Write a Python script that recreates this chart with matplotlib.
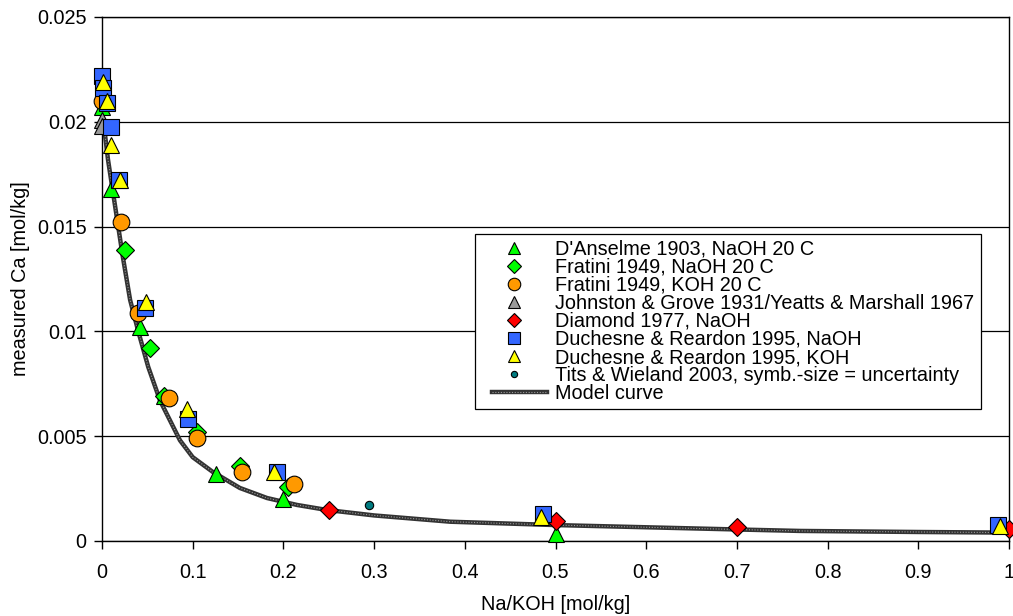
import matplotlib.pyplot as plt
from matplotlib.legend_handler import HandlerTuple

plt.rcParams['font.family'] = ['Liberation Sans', 'DejaVu Sans']

# D'Anselme 1903, NaOH 20 C
dans_x = [0.0, 0.01, 0.042, 0.068, 0.126, 0.2, 0.5]
dans_y = [0.0207, 0.0168, 0.0102, 0.0069, 0.0032, 0.0020, 0.00035]
# Fratini 1949, NaOH 20 C
fran_x = [0.025, 0.053, 0.068, 0.105, 0.152, 0.205]
fran_y = [0.0139, 0.0092, 0.0069, 0.0052, 0.0036, 0.0026]
# Fratini 1949, KOH 20 C
frak_x = [0.0, 0.021, 0.04, 0.074, 0.105, 0.154, 0.212]
frak_y = [0.0210, 0.0152, 0.0109, 0.0068, 0.0049, 0.0033, 0.0027]
# Johnston & Grove / Yeatts & Marshall
john_x = [0.0, 0.0]
john_y = [0.0201, 0.0198]
# Diamond 1977, NaOH
diam_x = [0.25, 0.5, 0.7, 1.0]
diam_y = [0.0015, 0.00095, 0.00067, 0.00055]
# Duchesne & Reardon 1995, NaOH
duna_x = [0.0, 0.001, 0.005, 0.01, 0.019, 0.047, 0.095, 0.193, 0.486, 0.988]
duna_y = [0.0222, 0.0216, 0.0209, 0.01975, 0.0172, 0.0111, 0.0058, 0.0033, 0.0013, 0.00075]
# Duchesne & Reardon 1995, KOH
duko_x = [0.001, 0.005, 0.01, 0.02, 0.048, 0.094, 0.19, 0.484, 0.99]
duko_y = [0.0219, 0.0210, 0.0189, 0.0172, 0.0114, 0.0063, 0.0033, 0.00115, 0.0007]
# Tits & Wieland 2003
tits_x = [0.294]
tits_y = [0.00172]
# Model curve
model_x = [0.0, 0.003, 0.0066, 0.02, 0.023, 0.031, 0.04, 0.051, 0.064, 0.086, 0.1,
           0.122, 0.152, 0.182, 0.215, 0.248, 0.3, 0.384, 0.5, 0.7, 0.77, 0.9, 1.0]
model_y = [0.0201, 0.0195, 0.0182, 0.0144, 0.01355, 0.0115, 0.0100, 0.0083, 0.0067,
           0.0048, 0.0040, 0.0033, 0.00253, 0.00205, 0.00172, 0.00148, 0.00122,
           0.00092, 0.00076, 0.00055, 0.00048, 0.00043, 0.0004]

FS = 14.3

fig = plt.figure(figsize=(10.13, 6.16), dpi=100)
ax = fig.add_axes([102 / 1013, 75 / 616, 907 / 1013, 524 / 616])

m1, = ax.plot(model_x, model_y, color='#333333', lw=3.2, zorder=2)
m2, = ax.plot(model_x, model_y, color='#9a9a9a', lw=0.8, dashes=(1, 1.5), zorder=2.1)

ek = dict(markeredgecolor='black', markeredgewidth=0.8, linestyle='none',
          zorder=3, clip_on=False)
h = []
h.append(ax.plot(dans_x, dans_y, marker='^', ms=12, color='#00ff00', **ek)[0])
h.append(ax.plot(fran_x, fran_y, marker='D', ms=9, color='#00ff00', **ek)[0])
h.append(ax.plot(frak_x, frak_y, marker='o', ms=12, color='#ff9900', **ek)[0])
h.append(ax.plot(john_x, john_y, marker='^', ms=12, color='#999999', **ek)[0])
h.append(ax.plot(diam_x, diam_y, marker='D', ms=9, color='#ff0000', **ek)[0])
h.append(ax.plot(duna_x, duna_y, marker='s', ms=11, color='#3366ff', **ek)[0])
h.append(ax.plot(duko_x, duko_y, marker='^', ms=12, color='#ffff00', **ek)[0])
h.append(ax.plot(tits_x, tits_y, marker='o', ms=6, color='#007b80', **ek)[0])

ax.set_xlim(0, 1)
ax.set_ylim(0, 0.025)
ax.set_xticks([0, 0.1, 0.2, 0.3, 0.4, 0.5, 0.6, 0.7, 0.8, 0.9, 1.0])
ax.set_xticklabels(['0', '0.1', '0.2', '0.3', '0.4', '0.5', '0.6', '0.7', '0.8', '0.9', '1'])
ax.set_yticks([0, 0.005, 0.01, 0.015, 0.02, 0.025])
ax.set_yticklabels(['0', '0.005', '0.01', '0.015', '0.02', '0.025'])
ax.tick_params(labelsize=FS, direction='out', length=6, width=1, color='black')
ax.tick_params(axis='x', pad=10)
ax.tick_params(axis='y', pad=5)
ax.yaxis.grid(True, color='black', lw=0.9)
ax.set_axisbelow(True)
for s in ['left', 'bottom', 'right', 'top']:
    ax.spines[s].set_linewidth(1.0)
    ax.spines[s].set_color('black')

ax.set_xlabel('Na/KOH [mol/kg]', fontsize=FS, labelpad=9)
ax.set_ylabel('measured Ca [mol/kg]', fontsize=FS, labelpad=5)

labels = ["D'Anselme 1903, NaOH 20 C", "Fratini 1949, NaOH 20 C", "Fratini 1949, KOH 20 C",
          "Johnston & Grove 1931/Yeatts & Marshall 1967", "Diamond 1977, NaOH",
          "Duchesne & Reardon 1995, NaOH", "Duchesne & Reardon 1995, KOH",
          "Tits & Wieland 2003, symb.-size = uncertainty", "Model curve"]
leg = fig.legend(h + [(m1, m2)], labels, loc='upper left',
                 bbox_to_anchor=(475 / 1013, 1 - 234 / 616), fontsize=FS,
                 fancybox=False, framealpha=1, edgecolor='black', markerscale=0.75,
                 labelspacing=-0.05, handlelength=3.3, handletextpad=0.45,
                 borderpad=0.3, borderaxespad=0,
                 handler_map={tuple: HandlerTuple(ndivide=1, xpad=0.55)})
leg.get_frame().set_linewidth(0.9)

fig.savefig('out.png', dpi=100)
